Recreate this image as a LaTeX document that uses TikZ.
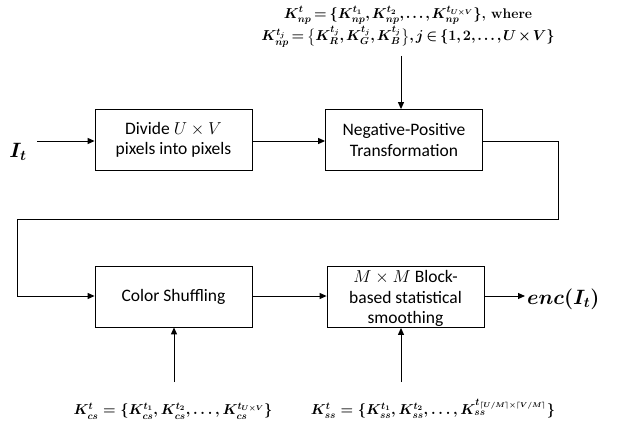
\documentclass[tikz,border=0pt]{standalone}
\usepackage{amsmath,bm}
\usepackage{fontspec}
\newfontfamily\boxfont{Carlito}
\usetikzlibrary{arrows.meta}
\tikzset{
  blk/.style={draw, line width=0.8pt, minimum width=157pt, minimum height=61pt, inner sep=1pt, align=center, font=\boxfont\fontsize{17.5}{20.5}\selectfont},
  conn/.style={line width=1pt, -{Triangle[length=7pt,width=6pt]}},
  frm/.style={inner sep=0pt, font=\fontsize{14}{20}\selectfont\boldmath\bfseries, align=center}
}
\newcommand{\tightmath}{\medmuskip=2mu\thickmuskip=3mu\thinmuskip=2mu}
\begin{document}
\begin{tikzpicture}[x=1pt,y=-1pt]
\useasboundingbox (0,0) rectangle (621,428);
\node[blk] (div) at (173.5,140) {Divide $U\times V$\\pixels into pixels};
\node[blk] (np) at (404,140) {Negative-Positive\\Transformation};
\node[blk] (cs) at (173.5,296.5) {Color Shuffling};
\node[blk, text depth=0pt] (ss) at (405.5,297) {\raisebox{0pt}{$M\times M$ Block-}\\based statistical\\smoothing};
\node[inner sep=0pt, font=\fontsize{21}{24}\selectfont\boldmath] (it) at (18,152) {$I_t$};
\node[inner sep=0pt, anchor=west, font=\fontsize{20}{24}\selectfont\boldmath] (enc) at (527,299) {$enc(I_t)$};
\node[frm] (knp) at (408,27) {\tightmath$K^t_{np}=\{K^{t_1}_{np},K^{t_2}_{np},\ldots,K^{t_{U\times V}}_{np}\}$, where\\[1pt]
\tightmath$K^{t_j}_{np}=\bigl\{K^{t_j}_{R},K^{t_j}_{G},K^{t_j}_{B}\bigr\},j\in\{1,2,\ldots,U\times V\}$};
\node[frm] (kcs) at (173,411) {$K^t_{cs}=\{K^{t_1}_{cs},K^{t_2}_{cs},\ldots,K^{t_{U\times V}}_{cs}\}$};
\node[frm] (kss) at (433,409) {$K^t_{ss}=\{K^{t_1}_{ss},K^{t_2}_{ss},\ldots,K^{t_{\lceil U/M\rceil\times\lceil V/M\rceil}}_{ss}\}$};
\coordinate (c1) at (558,141);
\coordinate (c2) at (558,219);
\coordinate (c3) at (17,219);
\coordinate (c4) at (17,296);
\coordinate (inS) at (37,141);
\coordinate (topS) at (401,56);
\coordinate (b1) at (174,382);
\coordinate (b2) at (401,382);
\draw[conn] (inS) -- (div.west |- inS);
\draw[conn] (div.east |- inS) -- (np.west |- inS);
\draw[conn] (topS) -- (np.north -| topS);
\draw[conn] (np.east |- c1) -- (c1) -- (c2) -- (c3) -- (c4) -- (cs.west |- c4);
\draw[conn] (cs.east |- c4) -- (ss.west |- c4);
\draw[conn] (ss.east |- c4) -- (525,296);
\draw[conn] (b1) -- (cs.south -| b1);
\draw[conn] (b2) -- (ss.south -| b2);
\end{tikzpicture}
\end{document}
